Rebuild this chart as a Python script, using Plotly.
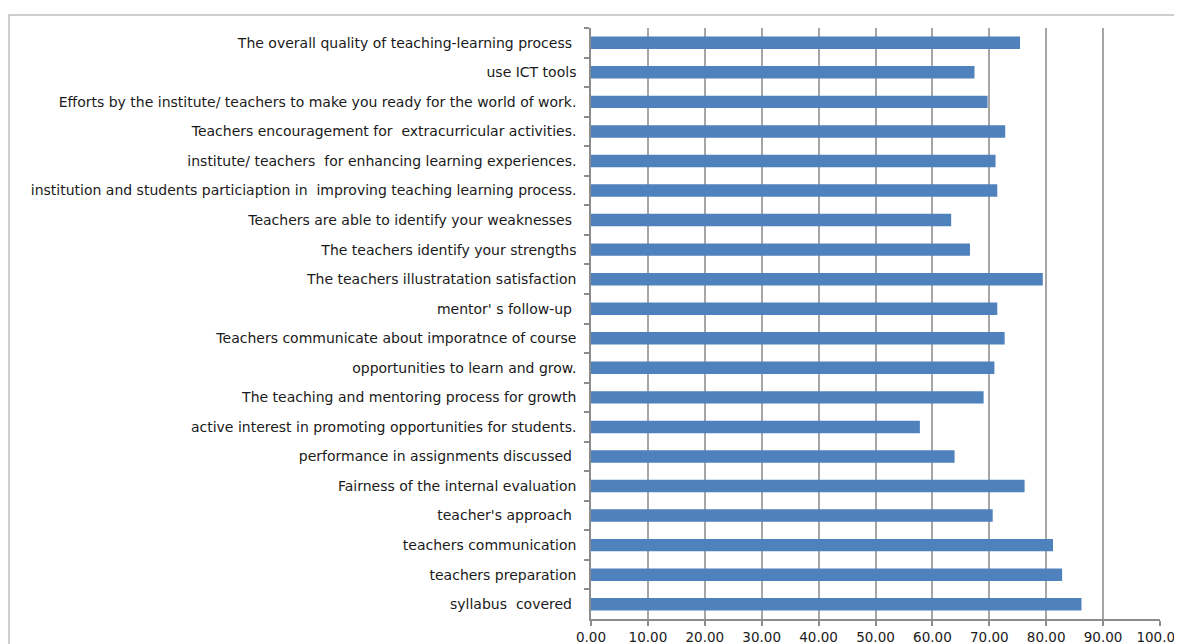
import plotly.graph_objects as go

categories = [
    "The overall quality of teaching-learning process\u00a0",
    "use ICT tools",
    "Efforts by the institute/ teachers to make you ready for the world of work.",
    "Teachers encouragement for \u00a0extracurricular activities.",
    "institute/ teachers \u00a0for enhancing learning experiences.",
    "institution and students particiaption in \u00a0improving teaching learning process.",
    "Teachers are able to identify your weaknesses\u00a0",
    "The teachers identify your strengths",
    "The teachers illustratation satisfaction",
    "mentor' s follow-up\u00a0",
    "Teachers communicate about imporatnce of course",
    "opportunities to learn and grow.",
    "The teaching and mentoring process for growth",
    "active interest in promoting opportunities for students.",
    "performance in assignments discussed\u00a0",
    "Fairness of the internal evaluation",
    "teacher's approach\u00a0",
    "teachers communication",
    "teachers preparation",
    "syllabus \u00a0covered\u00a0",
]
values = [75.4, 67.4, 69.7, 72.8, 71.1, 71.4, 63.3, 66.6, 79.4, 71.4,
          72.7, 70.9, 69.0, 57.8, 63.9, 76.2, 70.6, 81.2, 82.8, 86.2]
x_ticks = [0, 10, 20, 30, 40, 50, 60, 70, 80, 90, 100]
x_tick_labels = ["%.2f" % t for t in x_ticks]

fig = go.Figure(go.Bar(
    x=values, y=categories, orientation="h",
    marker=dict(color="#4F81BD", line=dict(width=0)),
))

fig.update_layout(
    width=1174, height=636,
    margin=dict(l=583, r=22, t=20, b=25),
    paper_bgcolor="white", plot_bgcolor="white",
    bargap=0.58,
    showlegend=False,
    font=dict(family="DejaVu Sans", size=14, color="#1a1a1a"),
    shapes=[dict(type="rect", xref="paper", yref="paper",
                 x0=-1.0228, x1=1.2, y0=-0.2, y1=1.022,
                 line=dict(color="#bfbfbf", width=1.5), fillcolor="rgba(0,0,0,0)", layer="below")],
)
fig.update_xaxes(
    range=[0, 100], tickvals=x_ticks, ticktext=x_tick_labels,
    showgrid=True, gridcolor="#a6a6a6", gridwidth=1.5,
    showline=True, linecolor="#8c8c8c", linewidth=1.5,
    ticks="outside", ticklen=5, tickcolor="#8c8c8c", tickwidth=1.5,
    zeroline=False, automargin=False, tickfont=dict(size=13.5),
    ticklabeloverflow="allow",
)
fig.update_yaxes(
    autorange="reversed", type="category",
    showline=True, linecolor="#8c8c8c", linewidth=1.5,
    ticks="outside", ticklen=5, tickcolor="#8c8c8c", tickwidth=1.5,
    tickson="boundaries", showgrid=False, ticklabelstandoff=10, automargin=False,
)

fig.write_html("out.html")
